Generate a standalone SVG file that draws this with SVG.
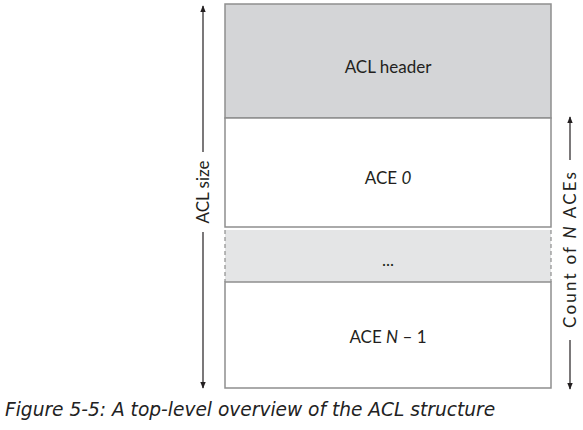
<svg xmlns="http://www.w3.org/2000/svg" width="583" height="430" viewBox="0 0 583 430">
<style>
.lbl{font-family:"Lato","Noto Sans",sans-serif;font-size:17px;fill:#231f20;text-anchor:middle}
.box{stroke:#8e8e8e;stroke-width:1.5}
.dash{stroke:#8e8e8e;stroke-width:1.2;stroke-dasharray:4,3;fill:none}
.ln{stroke:#231f20;stroke-width:1.2;fill:none}
.cap{font-family:"DejaVu Sans",sans-serif;font-style:italic;font-size:18.6px;fill:#222}
</style>
<defs>
<marker id="ah" viewBox="0 0 10 10" refX="9" refY="5" markerWidth="7" markerHeight="7" orient="auto-start-reverse" markerUnits="userSpaceOnUse">
<path d="M0,1 L10,5 L0,9 Z" fill="#231f20"/>
</marker>
</defs>
<g id="acl-header">
<rect class="box" x="225" y="4" width="326" height="114" fill="#d4d5d7"/>
<text class="lbl" x="388" y="73">ACL header</text>
</g>
<g id="ace-0">
<rect class="box" x="225" y="118" width="326" height="109" fill="#ffffff"/>
<text class="lbl" x="388" y="184">ACE <tspan font-style="italic">0</tspan></text>
</g>
<g id="ace-dots">
<rect x="225" y="230" width="326" height="52" fill="#e4e5e6"/>
<line class="dash" x1="225" y1="230" x2="225" y2="282"/>
<line class="dash" x1="551" y1="230" x2="551" y2="282"/>
<text class="lbl" x="388" y="266">...</text>
</g>
<g id="ace-n-1">
<rect class="box" x="225" y="282" width="326" height="106" fill="#ffffff"/>
<text class="lbl" x="388" y="343">ACE <tspan font-style="italic">N</tspan> – 1</text>
</g>
<g id="connectors">
<line class="ln" x1="203" y1="152" x2="203" y2="6" marker-end="url(#ah)"/>
<line class="ln" x1="203" y1="232" x2="203" y2="388" marker-end="url(#ah)"/>
<line class="ln" x1="570" y1="160" x2="570" y2="117" marker-end="url(#ah)"/>
<line class="ln" x1="570" y1="340" x2="570" y2="389" marker-end="url(#ah)"/>
</g>
<g id="side-labels">
<text class="lbl" transform="translate(209,192) rotate(-90)">ACL size</text>
<text class="lbl" transform="translate(576,250) rotate(-90)" textLength="156" lengthAdjust="spacing">Count of <tspan font-style="italic">N</tspan> ACEs</text>
</g>
<text class="cap" x="5" y="416">Figure 5-5: A top-level overview of the ACL structure</text>
</svg>
